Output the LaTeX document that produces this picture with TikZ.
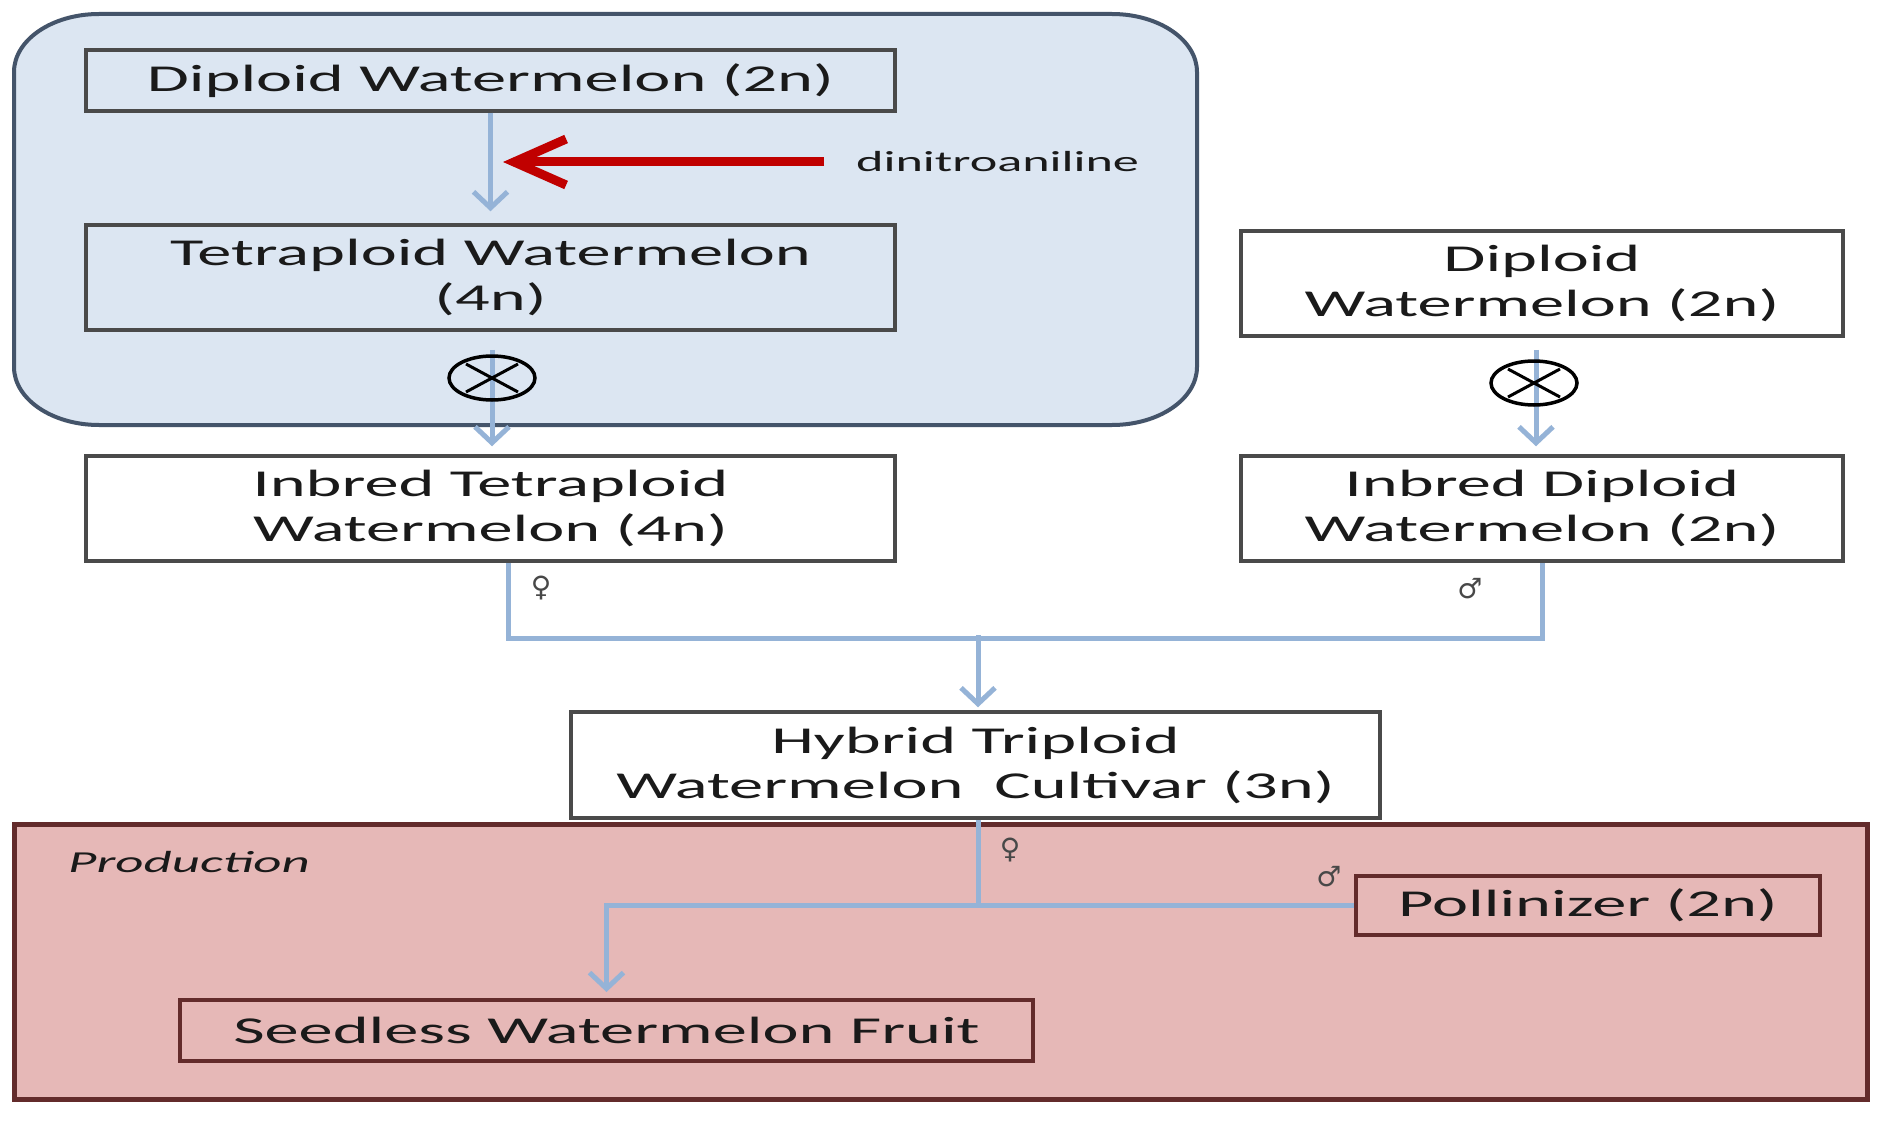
\documentclass[tikz,border=0pt]{standalone}
\usepackage{fontspec}
\usetikzlibrary{arrows.meta,shapes.geometric}
\newfontfamily\wfont[FakeStretch=1.8]{Carlito}
\newfontfamily\symfont{DejaVu Sans}
\definecolor{bluebg}{HTML}{DCE6F2}
\definecolor{bluebd}{HTML}{44546A}
\definecolor{redbg}{HTML}{E6B8B7}
\definecolor{redbd}{HTML}{632B2B}
\definecolor{boxbd}{HTML}{4A4A4A}
\definecolor{conncol}{HTML}{95B3D7}
\definecolor{arrred}{HTML}{C00000}
\definecolor{txt}{HTML}{1A1A1A}
\begin{document}
\begin{tikzpicture}[x=1pt,y=-1pt,
  boxtext/.style={font=\wfont\fontsize{38}{45}\selectfont, text=txt, align=center},
  wbox/.style={boxtext, draw=boxbd, line width=3.5pt, inner sep=0pt},
  pbox/.style={boxtext, draw=redbd, line width=4pt, inner sep=0pt},
  connline/.style={draw=conncol, line width=5pt},
  conn/.style={connline, -{Straight Barb[length=16pt,width=34pt]}},
  redarr/.style={draw=arrred, line width=9pt, -{Straight Barb[length=52pt,width=46pt]}},
  sex/.style={font=\symfont\fontsize{28}{30}\selectfont, text=txt!80, inner sep=0pt},
  selfx/.style={ellipse, draw=black, line width=3.5pt, minimum width=86pt, minimum height=44pt, inner sep=0pt,
    path picture={
      \draw[black, line width=3pt] ([shift={(-26,-14)}]path picture bounding box.center) -- ([shift={(26,14)}]path picture bounding box.center);
      \draw[black, line width=3pt] ([shift={(-26,14)}]path picture bounding box.center) -- ([shift={(26,-14)}]path picture bounding box.center);
    }},
]
\useasboundingbox (0,0) rectangle (1877,1121);
\fill[white] (0,0) rectangle (1877,1121);

% blue panel
\draw[fill=bluebg, draw=bluebd, line width=4pt]
  (99,14) -- (1112,14) arc[start angle=-90, end angle=0, x radius=85, y radius=58]
  -- (1197,367) arc[start angle=0, end angle=90, x radius=85, y radius=58]
  -- (99,425) arc[start angle=90, end angle=180, x radius=85, y radius=58]
  -- (14,72) arc[start angle=180, end angle=270, x radius=85, y radius=58] -- cycle;

% production panel
\draw[fill=redbg, draw=redbd, line width=5pt] (14,824) rectangle (1867,1099);
\node[font=\wfont\itshape\fontsize{30.5}{33}\selectfont, text=txt, anchor=west, inner sep=0pt] (prod) at (68,862) {Production};

% boxes
\node[wbox, minimum width=809pt, minimum height=61pt] (d1) at (490.5,80.5) {Diploid Watermelon (2n)};
\node[wbox, minimum width=809pt, minimum height=105pt] (t1) at (490.5,277.5) {Tetraploid Watermelon\\(4n)};
\node[wbox, fill=white, minimum width=809pt, minimum height=105pt] (i1) at (490.5,508.5) {Inbred Tetraploid\\Watermelon (4n)};
\node[wbox, fill=white, minimum width=602pt, minimum height=105pt] (d2) at (1542,283.5) {Diploid\\Watermelon (2n)};
\node[wbox, fill=white, minimum width=602pt, minimum height=105pt] (i2) at (1542,508.5) {Inbred Diploid\\Watermelon (2n)};
\node[wbox, fill=white, minimum width=809pt, minimum height=106pt] (h) at (975.5,765) {Hybrid Triploid\\Watermelon\ \ Cultivar (3n)};
\node[pbox, minimum width=464pt, minimum height=59pt] (p) at (1588,905.5) {Pollinizer (2n)};
\node[pbox, minimum width=853pt, minimum height=61pt] (s) at (606.5,1030.5) {Seedless Watermelon Fruit};

% treatment
\node[font=\wfont\fontsize{29}{32}\selectfont, text=txt, anchor=west, inner sep=0pt] (dn) at (856,162) {dinitroaniline};
\coordinate (rtip) at (503,162);

% connectors top-left
\draw[conn, shorten >=12pt] (d1.south) -- (t1.north);
\draw[redarr, shorten <=32pt] (dn.west) -- (rtip);
\draw[conn, shorten <=18pt, shorten >=8pt] ([xshift=1.5pt]t1.south) -- ([xshift=1.5pt]i1.north);
\node[selfx] (x1) at (492,378) {};

% right
\draw[conn, shorten <=12pt, shorten >=8pt] ([xshift=-6pt]d2.south) -- ([xshift=-6pt]i2.north);
\node[selfx] (x2) at (1534,383) {};

% cross to hybrid
\draw[connline] ([xshift=18pt]i1.south) -- ++(0,76) -| (i2.south);
\path (h.north) ++(2.5,-75) coordinate (j1);
\draw[conn, shorten >=3pt] (j1) -- ([xshift=2.5pt]h.north);
\node[sex] (f1) at (541,588) {♀};
\node[sex] (m1) at (1470,589) {♂};

% production connectors
\draw[connline] ([xshift=2.5pt]h.south) -- ([xshift=2.5pt]h.south |- p.west);
\draw[conn, shorten >=6pt] (p.west) -| (s.north);
\node[sex] (f2) at (1010,850) {♀};
\node[sex] (m2) at (1329,877) {♂};
\end{tikzpicture}
\end{document}
